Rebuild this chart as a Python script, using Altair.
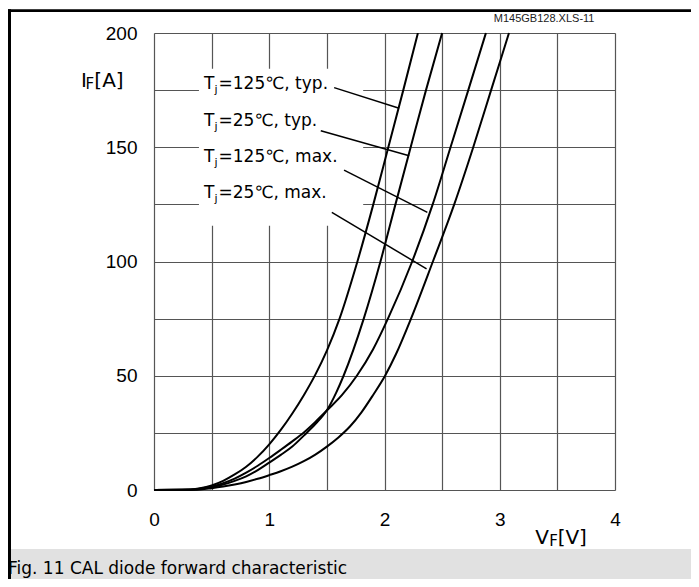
import altair as alt
import pandas as pd

TICK_FONT = "Liberation Sans"
TEXT_FONT = "DejaVu Sans"

# ---- curve data (V_F in V, I_F in A) ----
series_names = ["Tj=125°C, typ.", "Tj=25°C, typ.", "Tj=125°C, max.", "Tj=25°C, max."]

c1_v = [0, 0.3, 0.4, 0.5, 0.6, 0.7, 0.8, 0.9, 1.0, 1.1, 1.2, 1.3, 1.4, 1.5, 1.61, 1.765, 1.903, 2.033, 2.163, 2.29]
c1_i = [0, 0.2, 0.8, 2.0, 4.0, 6.8, 10.2, 14.6, 20, 26.3, 33.5, 41.5, 50.5, 61, 75, 100, 125, 150, 175, 200]

c2_v = [0, 0.3, 0.4, 0.5, 0.6, 0.7, 0.8, 0.9, 1.0, 1.1, 1.2, 1.3, 1.4, 1.504, 1.58, 1.645, 1.82, 1.965, 2.095, 2.227, 2.36, 2.50]
c2_i = [0, 0.1, 0.5, 1.2, 2.4, 4.0, 6.0, 8.7, 12, 15.4, 19, 23.8, 28.8, 35.2, 42.5, 50, 75, 100, 125, 150, 175, 200]

c3_v = [0, 0.3, 0.4, 0.5, 0.6, 0.7, 0.8, 0.9, 1.0, 1.1, 1.2, 1.3, 1.4, 1.504, 1.63, 1.76, 1.9, 2.03, 2.24, 2.418, 2.573, 2.727, 2.88]
c3_i = [0, 0.1, 0.6, 1.5, 3.0, 5.0, 7.6, 10.6, 14, 17.6, 21.3, 25.2, 29.8, 35.0, 41.5, 50, 61.5, 75, 100, 125, 150, 175, 200]

c4_v = [0, 0.35, 0.5, 0.6, 0.7, 0.8, 0.9, 1.0, 1.1, 1.2, 1.3, 1.4, 1.5, 1.6, 1.7, 1.8, 1.9, 2.005, 2.1, 2.23, 2.42, 2.605, 2.77, 2.925, 3.08]
c4_i = [0, 0.1, 0.8, 1.5, 2.4, 3.5, 4.9, 6.5, 8.2, 10.2, 12.6, 15.5, 19, 23, 27.8, 34, 41.5, 50, 59.5, 75, 100, 125, 150, 175, 200]

# ---- axis ticks / grid ----
x_grid = [0, 0.5, 1, 1.5, 2, 2.5, 3, 3.5, 4]
y_grid = [0, 25, 50, 75, 100, 125, 150, 175, 200]

# ---- annotation texts ----
label_rest = ["=125℃, typ.", "=25℃, typ.", "=125℃, max.", "=25℃, max."]
label_v = [0.434, 0.434, 0.434, 0.434]
label_i = [175.3, 159.1, 143.5, 127.9]

# leader lines: start (V, I) -> end (V, I)
lead_v1 = [1.563, 1.447, 1.649, 1.543]
lead_i1 = [176.1, 157.2, 140.0, 121.5]
lead_v2 = [2.127, 2.214, 2.372, 2.365]
lead_i2 = [167.1, 146.3, 121.5, 96.8]

# white box behind the labels (grid interrupted there)
box_v = [0.39, 1.815]
box_i = [115.7, 184.3]

caption = "Fig. 11 CAL diode forward characteristic"
file_tag = "M145GB128.XLS-11"

# ---- build tables ----
rows = []
for name, vs, is_ in zip(series_names, [c1_v, c2_v, c3_v, c4_v], [c1_i, c2_i, c3_i, c4_i]):
    for v, i in zip(vs, is_):
        rows.append({"series": name, "V": v, "I": i})
curves = pd.DataFrame(rows)

labels = pd.DataFrame({"V": label_v, "I": label_i, "rest": label_rest,
                       "T": ["T"] * 4, "j": ["j"] * 4})
leaders = pd.DataFrame({"v1": lead_v1, "i1": lead_i1, "v2": lead_v2, "i2": lead_i2})
box = pd.DataFrame({"v1": [box_v[0]], "v2": [box_v[1]], "i1": [box_i[0]], "i2": [box_i[1]]})

xs = alt.Scale(domain=[0, 4], nice=False, zero=False)
ys = alt.Scale(domain=[0, 200], nice=False, zero=False)

x_axis = alt.Axis(values=x_grid,
                  labelExpr="datum.value % 1 === 0 ? format(datum.value, 'd') : ''",
                  grid=True, ticks=False, domain=False, title=None,
                  labelFont=TICK_FONT, labelFontSize=19, labelColor="black", labelPadding=20,
                  labelFlush=False, labelOverlap=False,
                  gridColor="#555555", gridWidth=1.2)
y_axis = alt.Axis(values=y_grid,
                  labelExpr="datum.value % 50 === 0 ? format(datum.value, 'd') : ''",
                  grid=True, ticks=False, domain=False, title=None,
                  labelFont=TICK_FONT, labelFontSize=19, labelColor="black", labelPadding=17,
                  labelFlush=False, labelOverlap=False,
                  gridColor="#555555", gridWidth=1.2)

lines = alt.Chart(curves).mark_line(color="black", strokeWidth=2, interpolate="monotone").encode(
    x=alt.X("V:Q", scale=xs, axis=x_axis),
    y=alt.Y("I:Q", scale=ys, axis=y_axis),
    detail="series:N",
)

box_layer = alt.Chart(box).mark_rect(fill="white").encode(
    x=alt.X("v1:Q", scale=xs), x2="v2:Q",
    y=alt.Y("i1:Q", scale=ys), y2="i2:Q",
)

lead_layer = alt.Chart(leaders).mark_rule(color="black", strokeWidth=1.5).encode(
    x=alt.X("v1:Q", scale=xs), x2="v2:Q",
    y=alt.Y("i1:Q", scale=ys), y2="i2:Q",
)

enc_lab = dict(x=alt.X("V:Q", scale=xs), y=alt.Y("I:Q", scale=ys))
lab_T = alt.Chart(labels).mark_text(align="left", baseline="alphabetic", font=TEXT_FONT,
                                    fontSize=17, color="black").encode(text="T:N", **enc_lab)
lab_j = alt.Chart(labels).mark_text(align="left", baseline="alphabetic", font=TEXT_FONT,
                                    fontSize=11, color="black", dx=10.5, dy=4).encode(text="j:N", **enc_lab)
lab_rest = alt.Chart(labels).mark_text(align="left", baseline="alphabetic", font=TEXT_FONT,
                                       fontSize=17, color="black", dx=14.5).encode(text="rest:N", **enc_lab)

# axis titles with subscripts
ytitle = pd.DataFrame({"V": [-0.634], "I": [176.2], "a": ["I"], "b": ["F"], "c": ["[A]"]})
xtitle = pd.DataFrame({"V": [3.307], "I": [-23.6], "a": ["V"], "b": ["F"], "c": ["[V]"]})


def sub_title(df, dx_b, dx_c):
    enc = dict(x=alt.X("V:Q", scale=xs), y=alt.Y("I:Q", scale=ys))
    a = alt.Chart(df).mark_text(align="left", baseline="alphabetic", font=TEXT_FONT, fontSize=20,
                                color="black").encode(text="a:N", **enc)
    b = alt.Chart(df).mark_text(align="left", baseline="alphabetic", font=TEXT_FONT, fontSize=15,
                                color="black", dx=dx_b, dy=2).encode(text="b:N", **enc)
    c = alt.Chart(df).mark_text(align="left", baseline="alphabetic", font=TEXT_FONT, fontSize=20,
                                color="black", dx=dx_c).encode(text="c:N", **enc)
    return a + b + c


ytitle_layer = sub_title(ytitle, 4.5, 13.4)
xtitle_layer = sub_title(xtitle, 14, 22.5)

tag = alt.Chart(pd.DataFrame({"V": [3.385], "I": [204.9], "t": [file_tag]})).mark_text(
    align="center", baseline="alphabetic", font=TICK_FONT, fontSize=11, color="#222222").encode(
    x=alt.X("V:Q", scale=xs), y=alt.Y("I:Q", scale=ys), text="t:N")

# caption band and page frame (decoration)
band = alt.Chart(pd.DataFrame({"k": [0]})).mark_rect(fill="#e1e1e1").encode(
    x=alt.value(-143), x2=alt.value(537), y=alt.value(516), y2=alt.value(546))
frame_top = alt.Chart(pd.DataFrame({"k": [0]})).mark_rect(fill="black").encode(
    x=alt.value(-146), x2=alt.value(537), y=alt.value(-23.7), y2=alt.value(-21))
frame_left = alt.Chart(pd.DataFrame({"k": [0]})).mark_rect(fill="black").encode(
    x=alt.value(-146), x2=alt.value(-143), y=alt.value(-23.7), y2=alt.value(546))

cap = alt.Chart(pd.DataFrame({"V": [-1.267], "I": [-36.8], "t": [caption]})).mark_text(
    align="left", baseline="alphabetic", font=TEXT_FONT, fontSize=17, color="black").encode(
    x=alt.X("V:Q", scale=xs), y=alt.Y("I:Q", scale=ys), text="t:N")

chart = alt.layer(
    box_layer, lines, lead_layer, lab_T, lab_j, lab_rest,
    ytitle_layer, xtitle_layer, tag, band, frame_top, frame_left, cap
).properties(
    width=461, height=457,
    autosize="none",
    padding={"left": 146, "top": 25, "right": 76, "bottom": 89},
).configure_view(stroke="black", strokeWidth=2).configure(background="white")

chart.save("out.html", embed_options={"renderer": "svg", "actions": False})
